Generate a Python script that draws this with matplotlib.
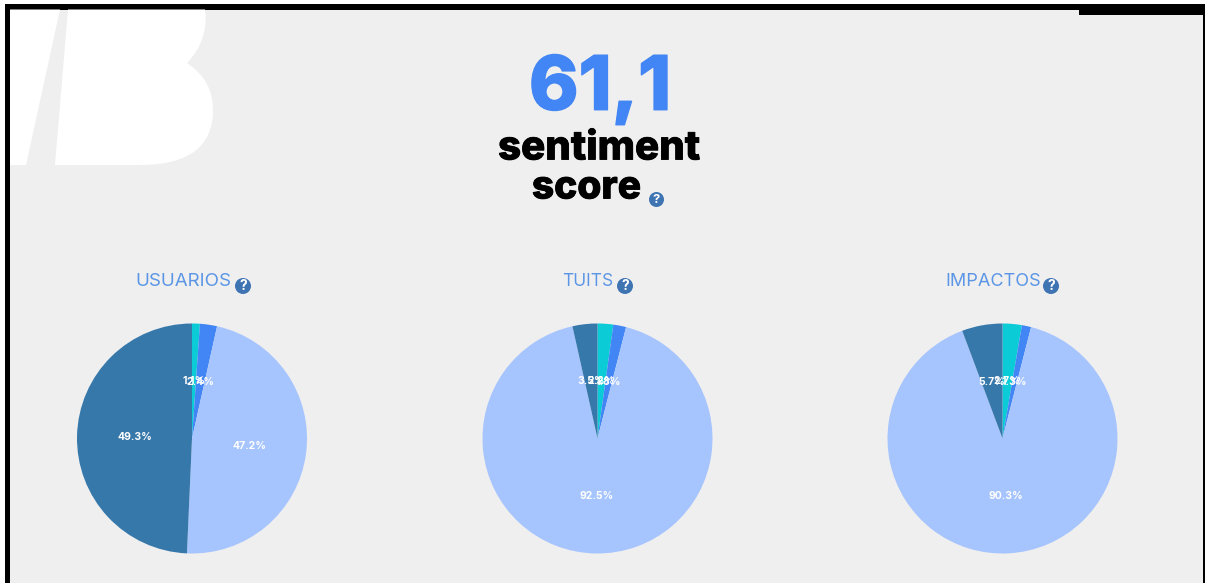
import matplotlib
matplotlib.use('Agg')
import matplotlib.pyplot as plt
import matplotlib.patheffects as pe
from matplotlib.patches import Circle, PathPatch, Polygon, Rectangle
from matplotlib.path import Path

W, H = 1208, 583

# Values
titles = ['USUARIOS', 'TUITS', 'IMPACTOS']
usuarios = [1.1, 2.4, 47.2, 49.3]
tuits = [2.2, 1.8, 92.5, 3.5]
impactos = [2.7, 1.3, 90.3, 5.7]
score_value = '61,1'
score_lines = ['sentiment', 'score']

pie_colors = ['#0bcbd6', '#4285f4', '#a6c4fe', '#3778ab']
pie_centers = [192, 597.5, 1002.5]
title_x = [183.5, 587.5, 993]
title_size = [13.5, 12.5, 13]
icon_x = [243, 625, 1051]
pie_cy = 438.5
pie_r = 115

plt.rcParams['font.family'] = ['Inter', 'DejaVu Sans']
fig = plt.figure(figsize=(W / 100, H / 100), dpi=100, facecolor='white')

# Full figure axes in pixel coords for frame, logo and text
bg = fig.add_axes([0, 0, 1, 1])
bg.set_xlim(0, W)
bg.set_ylim(H, 0)
bg.axis('off')

bg.add_patch(Rectangle((5, 4), 1200, 579, fc='black', ec='none'))
bg.add_patch(Rectangle((10, 14.5), 1193, 569, fc='#efefef', ec='none'))
bg.add_patch(Rectangle((10, 9.5), 1069, 6, fc='#efefef', ec='none'))

# White logo in the corner
bg.add_patch(Polygon([(10, 9.5), (60, 9.5), (26, 165), (10, 165)], fc='white', ec='none'))
verts = [(68, 9.5), (205, 9.5), (209, 40), (187, 63), (213, 80), (213, 110),
         (213, 165), (140, 165), (55, 165), (68, 9.5)]
codes = [Path.MOVETO, Path.LINETO, Path.CURVE3, Path.CURVE3, Path.CURVE3, Path.CURVE3,
         Path.CURVE3, Path.CURVE3, Path.LINETO, Path.CLOSEPOLY]
bg.add_patch(PathPatch(Path(verts, codes), fc='white', ec='none'))


def help_icon(x, y, r):
    bg.add_patch(Circle((x, y), r, fc='#3f74b3', ec='none'))
    bg.text(x, y + 0.3, '?', color='white', fontsize=r * 1.25, fontweight='bold',
            ha='center', va='center')


# Score block
bg.text(600, 90, score_value, color='#4285f4', fontsize=54, fontweight='heavy',
        ha='center', va='center',
        path_effects=[pe.withStroke(linewidth=1, foreground='#4285f4')])
bg.text(599, 149, score_lines[0], color='black', fontsize=29, fontweight='heavy',
        ha='center', va='center',
        path_effects=[pe.withStroke(linewidth=0.6, foreground='black')])
bg.text(586.5, 188, score_lines[1], color='black', fontsize=28, fontweight='heavy',
        ha='center', va='center',
        path_effects=[pe.withStroke(linewidth=0.6, foreground='black')])
help_icon(656.5, 199.5, 7.5)

# Pies
series = [usuarios, tuits, impactos]
for i in range(3):
    cx = pie_centers[i]
    ax = fig.add_axes([(cx - pie_r) / W, 1 - (pie_cy + pie_r) / H,
                       2 * pie_r / W, 2 * pie_r / H])
    wedges, texts, autotexts = ax.pie(series[i], colors=pie_colors, startangle=90,
                                      counterclock=False, radius=1,
                                      autopct='%.1f%%', pctdistance=0.5)
    for t in autotexts:
        t.set_color('white')
        t.set_fontsize(7.5)
        t.set_fontweight('bold')
    ax.set_xlim(-1, 1)
    ax.set_ylim(-1, 1)

    bg.text(title_x[i], 281, titles[i], color='#5b96e6', fontsize=title_size[i],
            ha='center', va='center')
    help_icon(icon_x[i], 286, 8)

fig.savefig('out.png', dpi=100, facecolor='white')
